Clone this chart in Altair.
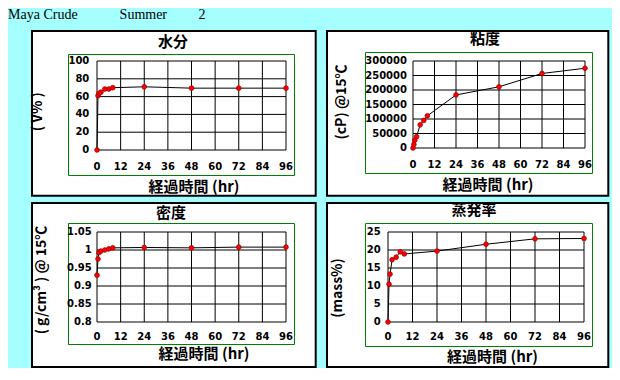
import altair as alt
import pandas as pd

# ---- data ----
time_hr = [0, 0.5, 1, 2, 4, 6, 8, 24, 48, 72, 96]
water = [0, 61, 63.5, 65, 68.5, 68.5, 70, 71, 69.5, 69.5, 69.5]
viscosity = [0, 12500, 27000, 39000, 80000, 95000, 111000, 183000, 211000, 257000, 275000]
density = [0.93, 0.975, 0.993, 0.997, 1.0, 1.003, 1.006, 1.007, 1.006, 1.008, 1.008]
evaporation = [0, 10.5, 13.3, 17.3, 18.0, 19.5, 18.9, 19.7, 21.6, 23.1, 23.2]

x_ticks = [0, 12, 24, 36, 48, 60, 72, 84, 96]
water_ticks = [0, 20, 40, 60, 80, 100]
visc_ticks = [0, 50000, 100000, 150000, 200000, 250000, 300000]
dens_ticks = [0.8, 0.85, 0.9, 0.95, 1.0, 1.05]
evap_ticks = [0, 5, 10, 15, 20, 25]

header = "Maya Crude" + "\u00a0" * 12 + "Summer" + "\u00a0" * 9 + "2"
x_title = "経過時間 (hr)"

BG = "#A6FFFF"
JP = "Noto Sans CJK JP"
LBL = "DejaVu Sans"


def fmt(v):
    return f"{v:g}"


def panel(values, yticks, ydomain, w, h, border, frame, title, title_xy,
          xtitle_xy, ytitle, ytitle_xy, xlab_y, ylab_x):
    df = pd.DataFrame({"t": time_hr, "v": values})
    one = pd.DataFrame({"k": [0]})
    gx = pd.DataFrame({"gx": x_ticks, "lab": [fmt(v) for v in x_ticks]})
    gy = pd.DataFrame({"gy": yticks, "lab": [fmt(v) for v in yticks]})
    xs = alt.Scale(domain=[0, 96], nice=False, zero=False)
    ys = alt.Scale(domain=ydomain, nice=False, zero=False)
    X = lambda f: alt.X(f, scale=xs, axis=None)
    Y = lambda f: alt.Y(f, scale=ys, axis=None)

    box = alt.Chart(one).mark_rect(fill="white", stroke="black", strokeWidth=2).encode(
        x=alt.value(border[0]), x2=alt.value(border[1]),
        y=alt.value(border[2]), y2=alt.value(border[3]))
    frm = alt.Chart(one).mark_rect(fillOpacity=0, stroke="#008000", strokeWidth=1).encode(
        x=alt.value(frame[0]), x2=alt.value(frame[1]),
        y=alt.value(frame[2]), y2=alt.value(frame[3]))
    vgrid = alt.Chart(gx).mark_rule(color="black", strokeWidth=1).encode(x=X("gx:Q"))
    hgrid = alt.Chart(gy).mark_rule(color="black", strokeWidth=1).encode(y=Y("gy:Q"))
    xlab = alt.Chart(gx).mark_text(font=LBL, fontSize=10, fontWeight="bold", color="black",
                                   align="center", baseline="middle").encode(
        x=X("gx:Q"), y=alt.value(xlab_y), text="lab:N")
    ylab = alt.Chart(gy).mark_text(font=LBL, fontSize=10, fontWeight="bold", color="black",
                                   align="right", baseline="middle").encode(
        y=Y("gy:Q"), x=alt.value(ylab_x), text="lab:N")
    line = alt.Chart(df).mark_line(color="black", strokeWidth=1).encode(x=X("t:Q"), y=Y("v:Q"))
    pts = alt.Chart(df).mark_point(shape="circle", filled=True, fill="#FF0000", stroke="#A00000",
                                   strokeWidth=0.8, size=22, opacity=1).encode(
        x=X("t:Q"), y=Y("v:Q"))
    ttl = alt.Chart(one).mark_text(text=title, font=JP, fontSize=15, fontWeight="bold",
                                   color="black", align="center", baseline="middle").encode(
        x=alt.value(title_xy[0]), y=alt.value(title_xy[1]))
    xt = alt.Chart(one).mark_text(text=x_title, font=JP, fontSize=15, fontWeight="bold",
                                  color="black", align="center", baseline="middle").encode(
        x=alt.value(xtitle_xy[0]), y=alt.value(xtitle_xy[1]))
    yt = alt.Chart(one).mark_text(text=ytitle, font=JP, fontSize=14, fontWeight="bold",
                                  color="black", align="center", baseline="middle", angle=270).encode(
        x=alt.value(ytitle_xy[0]), y=alt.value(ytitle_xy[1]))
    return alt.layer(box, frm, vgrid, hgrid, line, pts, xlab, ylab, ttl, xt, yt).properties(
        width=w, height=h)


tl = panel(water, water_ticks, [0, 100], 189, 89,
           (-65, 218.7, -30, 134.7), (-28.5, 197.5, -6.5, 114.5),
           "水分", (76, -19.5), (97, 125.5), "( V% )", (-58.7, 50.7), 105.7, -7.7)
tr = panel(viscosity, visc_ticks, [0, 300000], 172, 87,
           (-86, 195.3, -30, 134.7), (-47.5, 179.5, -8.5, 112.5),
           "粘度", (72, -22), (75, 124), "(cP) @15℃", (-71, 41), 104, -6)
bl = panel(density, dens_ticks, [0.8, 1.05], 189, 90,
           (-65, 218.7, -29, 135), (-28.5, 197.5, -8.5, 112.5),
           "密度", (74, -19.5), (107, 122), "( g/cm³ ) @ 15℃", (-55, 48), 104.7, -5.3)
br = panel(evaporation, evap_ticks, [0, 25], 196, 90,
           (-61, 220.3, -29, 135), (-22.5, 204.5, -8.5, 114.5),
           "蒸発率", (86, -22), (104.5, 125), "(mass%)", (-50, 56), 104.7, -7.3)

chart = alt.concat(tl, tr, bl, br, columns=2, spacing={"row": 5, "column": 9}, align="none").properties(
    title=alt.TitleParams(text=header, anchor="start", frame="bounds", font="Liberation Serif",
                          fontSize=14, fontWeight="normal", color="black", dx=-23, offset=8),
    background=BG,
    padding={"left": 0, "top": 0, "right": 2, "bottom": 0},
).configure_view(strokeWidth=0)

chart.save("out.html", embed_options={"renderer": "svg", "actions": False})
